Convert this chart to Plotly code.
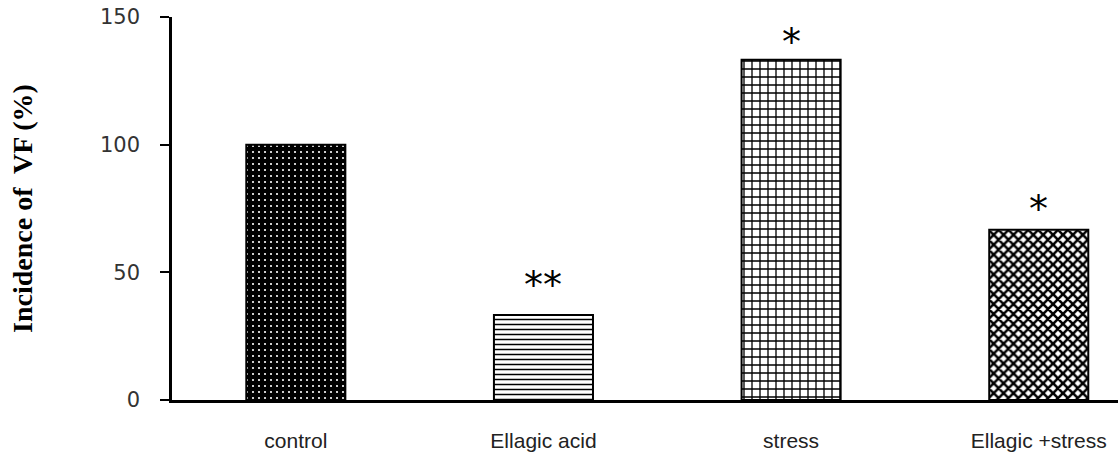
import plotly.graph_objects as go

categories = ["control", "Ellagic acid", "stress", "Ellagic +stress"]
values = [100, 33.3, 133.3, 66.7]
marks = ["", "**", "*", "*"]
y_ticks = [0, 50, 100, 150]

bg_colors = ["black", "white", "white", "white"]
fg_colors = ["white", "black", "black", "black"]
shapes = [".", "-", "+", "x"]
sizes = [6, 5, 8, 7]
solid = [0.1, 0.3, 0.3, 0.6]
mark_shift = [0, 30, 18, 21]

fig = go.Figure()
for i, (c, v) in enumerate(zip(categories, values)):
    fig.add_trace(go.Bar(
        x=[c], y=[v],
        width=0.4,
        marker=dict(
            color=bg_colors[i],
            line=dict(color="black", width=2),
            pattern=dict(shape=shapes[i], fgcolor=fg_colors[i], bgcolor=bg_colors[i],
                         size=sizes[i], solidity=solid[i], fillmode="replace"),
        ),
        showlegend=False,
    ))

for c, v, m, s in zip(categories, values, marks, mark_shift):
    if m:
        fig.add_annotation(x=c, y=v, text=m, showarrow=False, yshift=s,
                           font=dict(family="DejaVu Sans", size=38, color="black"))

fig.update_layout(
    width=1118, height=457,
    margin=dict(l=172, r=0, t=17, b=57),
    barmode="overlay",
    paper_bgcolor="white", plot_bgcolor="white",
    xaxis=dict(
        type="category", range=[-0.5, 3.32],
        showline=True, linecolor="black", linewidth=3,
        ticks="", ticklabelstandoff=20, automargin=False,
        tickfont=dict(family="Liberation Sans Narrow, Liberation Sans", size=21, color="#222"),
        showgrid=False, zeroline=False,
    ),
    yaxis=dict(
        range=[0, 150], tickvals=y_ticks,
        showline=True, linecolor="black", linewidth=2.5,
        ticks="outside", ticklen=9, tickwidth=2, tickcolor="black",
        ticklabelstandoff=16, ticklabeloverflow="allow", automargin=False,
        tickfont=dict(family="DejaVu Sans", size=21, color="#333"),
        showgrid=False, zeroline=False,
        title=dict(text="Incidence of  VF (%)", standoff=60,
                   font=dict(family="Liberation Serif", size=28, color="black", weight="bold")),
    ),
)

fig.write_html("out.html", config={"displayModeBar": False},
               post_script="document.body.style.margin='0';document.body.style.overflow='hidden';")
